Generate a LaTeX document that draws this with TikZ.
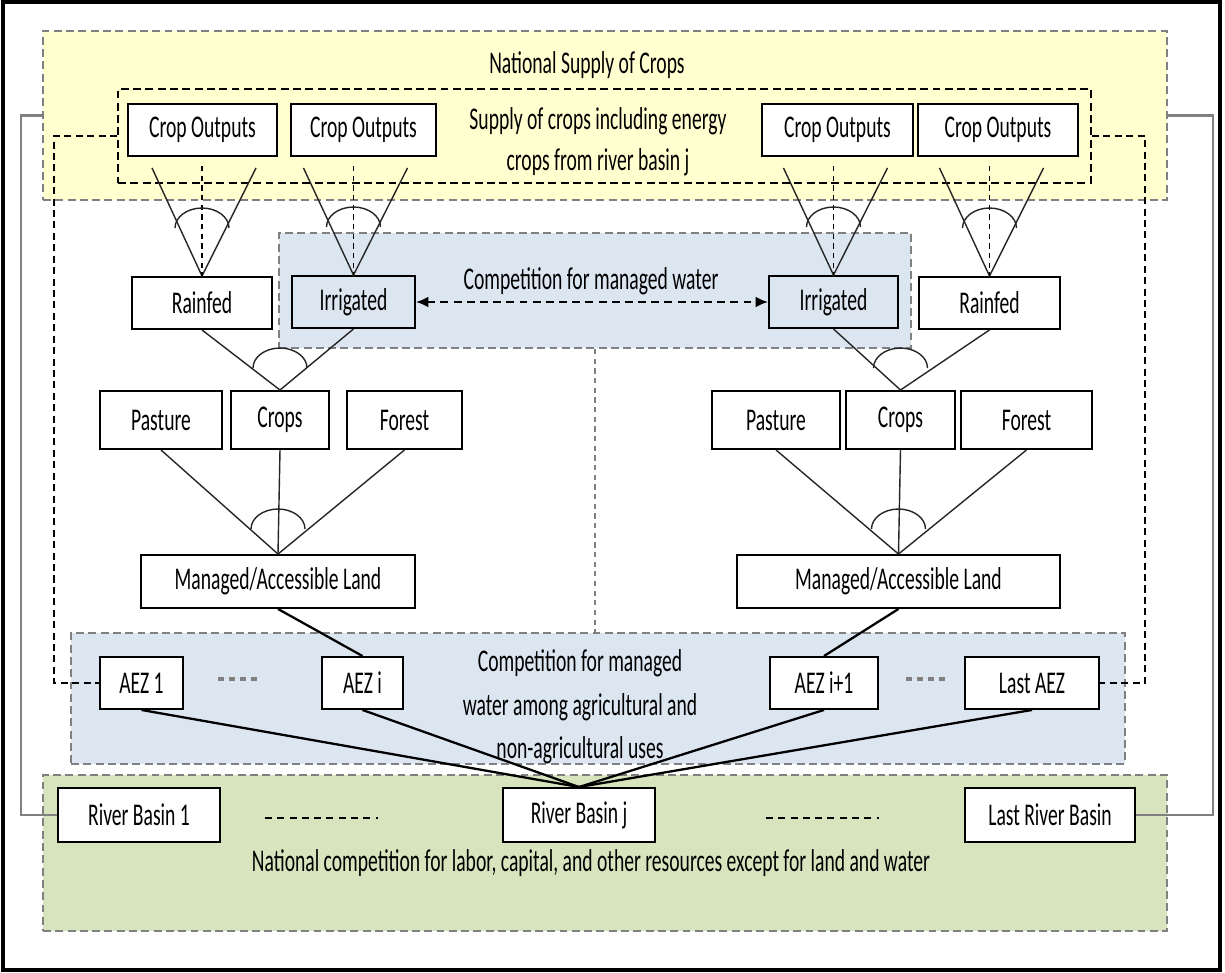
\documentclass[tikz,border=0pt]{standalone}
\usepackage{fontspec}
\setmainfont{Carlito}[FakeStretch=0.62]
\usetikzlibrary{arrows.meta, calc, positioning}
\definecolor{supplyyellow}{HTML}{FFFFD0}
\definecolor{waterblue}{HTML}{DCE6F1}
\definecolor{landgreen}{HTML}{D7E4BD}
\newcommand{\diagfont}{\fontsize{18}{21}\selectfont}
\newcommand{\andarc}[2]{% arc over the lines meeting at #1, #2 units above it
  \draw[link] ($(#1)+(-27,-#2)$) arc[start angle=180, end angle=360, x radius=27, y radius=20];}
\tikzset{
    dims/.style 2 args={minimum width=#1*0.02cm, minimum height=#2*0.02cm},
    box/.style 2 args={draw, fill=white, line width=1.1pt, inner sep=1pt, dims={#1}{#2}}, % one box of the nest
    zone/.style={draw=gray, line width=1.1pt, inner sep=0pt, dash pattern=on 4.5pt off 2.5pt},
    zonetext/.style={align=center, font=\fontsize{18}{23.5}\selectfont},
    link/.style={line width=0.8pt, black!85},
    heavylink/.style={line width=1.3pt},
    vlink/.style={line width=0.7pt, dash pattern=on 3pt off 2.5pt},
    sidelink/.style={line width=1.1pt, dash pattern=on 4pt off 2.5pt},
    outerlink/.style={line width=1.6pt, gray},
    bothways/.style={{Latex[length=7pt,width=6pt]}-{Latex[length=7pt,width=6pt]}, line width=1.1pt, dash pattern=on 4.5pt off 3pt},
    aezdots/.style={line width=2pt, gray, dash pattern=on 3.5pt off 2.8pt},
    basindots/.style={line width=1.3pt, dash pattern=on 4pt off 3pt}
}
\begin{document}
\begin{tikzpicture}[x=0.02cm, y=-0.02cm, every node/.style={font=\diagfont}]
\useasboundingbox (0,0) rectangle (1225,973);
% zones
\node[zone, fill=supplyyellow, dims={1124}{169}] (natl) at (605,115.5) {};
\node[zone, draw=black, dims={973}{94}] (sup) at (604.5,136) {};
\node[zone, fill=waterblue, dims={632}{115}] (compw) at (595,290.5) {};
\node[zone, fill=waterblue, dims={1054}{131}] (compu) at (598,698.5) {};
\node[zone, fill=landgreen, dims={1124}{156}] (natc) at (605,853) {};
\node (natltxt) at (587,65) {National Supply of Crops};
\node[zonetext] (suptxt) at (598,142) {Supply of crops including energy\\crops from river basin j};
\node (compwtxt) at (591,281) {Competition for managed water};
\node[zonetext, font=\fontsize{18}{24.8}\selectfont] (compttxt) at (580,707) {Competition for managed\\water among agricultural and\\non-agricultural uses};
\node (natctxt) at (591,863) {National competition for labor, capital, and other resources except for land and water};
\draw[line width=2.6pt] (3,2) rectangle (1220,970);
\draw[vlink, gray] (compw.south) -- (compw.south |- compu.north);

\node[box={149}{52}] (co1) at (202.5,130) {Crop Outputs};
\node[box={145}{52}] (co2) at (363.5,130) {Crop Outputs};
\node[box={151}{52}] (co3) at (837.5,130) {Crop Outputs};
\node[box={160}{52}] (co4) at (998,130) {Crop Outputs};
\node[box={140}{52}] (rf1) at (202,303) {Rainfed};
\node[box={123}{52}, fill=waterblue] (ir1) at (353.5,302) {Irrigated};
\node[box={129}{52}, fill=waterblue] (ir2) at (833.5,302) {Irrigated};
\node[box={141}{52}] (rf2) at (989.5,303) {Rainfed};
\node[box={122}{58}] (pa1) at (161,420) {Pasture};
\node[box={98}{58}] (cr1) at (280,420) {Crops};
\node[box={115}{58}] (fo1) at (404.5,420) {Forest};
\node[box={128}{58}] (pa2) at (776,420) {Pasture};
\node[box={109}{58}] (cr2) at (900.5,420) {Crops};
\node[box={131}{58}] (fo2) at (1026.5,420) {Forest};
\node[box={274}{53}] (ml1) at (278,581.5) {Managed/Accessible Land};
\node[box={323}{53}] (ml2) at (898.5,581.5) {Managed/Accessible Land};
\node[box={83}{52}] (aez1) at (141.5,683) {AEZ 1};
\node[box={81}{52}] (aezi) at (362.5,683) {AEZ i};
\node[box={108}{52}] (aezn) at (824,683) {AEZ i+1};
\node[box={134}{52}] (aezl) at (1032,683) {Last AEZ};
\node[box={162}{54}] (rb1) at (139,815) {River Basin 1};
\node[box={152}{54}] (rbj) at (579,815) {River Basin j};
\node[box={170}{54}] (rbl) at (1050,815) {Last River Basin};

% crop outputs from rainfed and irrigated land
\foreach \up/\low in {co1/rf1, co2/ir1, co3/ir2, co4/rf2}{
  \draw[link] ($(\low.north |- \up.south)+(-50,11)$) -- (\low.north) -- ($(\low.north |- \up.south)+(54,11)$);
  \draw[vlink] ($(\low.north |- \up.south)+(0,9)$) -- (\low.north);
  \andarc{\low.north}{48}
}
\draw[bothways] (ir1) -- (ir2);
\draw[link] (rf1.south) -- (cr1.north) -- (ir1.south);
\draw[link] (ir2.south) -- (cr2.north) -- (rf2.south);
\andarc{cr1.north}{22}
\andarc{cr2.north}{22}
\foreach \side in {1,2}{
  \draw[link] (pa\side.south) -- (ml\side.north) -- (fo\side.south);
  \draw[link] (cr\side.south) -- (ml\side.north);
  \andarc{ml\side.north}{25}
}
\draw[heavylink] (ml1.south) -- (aezi.north);
\draw[heavylink] (ml2.south) -- (aezn.north);
\foreach \z in {aez1, aezi, aezn, aezl}
  \draw[heavylink] (\z.south) -- (rbj.north);
\draw[aezdots] ($(aez1.east)+(34,-4)$) -- +(42,0);
\draw[aezdots] ($(aezn.east)+(27,-4)$) -- +(44,0);
\draw[basindots] ($(rb1.east)+(44,3)$) -- +(113,0);
\draw[basindots] ($(rbj.east)+(110,3)$) -- +(113,0);

% links round the side
\draw[outerlink] (natl.west) -- ++(-21,0) |- (rb1.west);
\draw[outerlink] (natl.east) -- ++(45,0) |- (rbl.east);
\draw[sidelink] (sup.west) -- ++(-63,0) |- (aez1.west);
\draw[sidelink] (sup.east) -- ++(53,0) |- (aezl.east);
\end{tikzpicture}
\end{document}
